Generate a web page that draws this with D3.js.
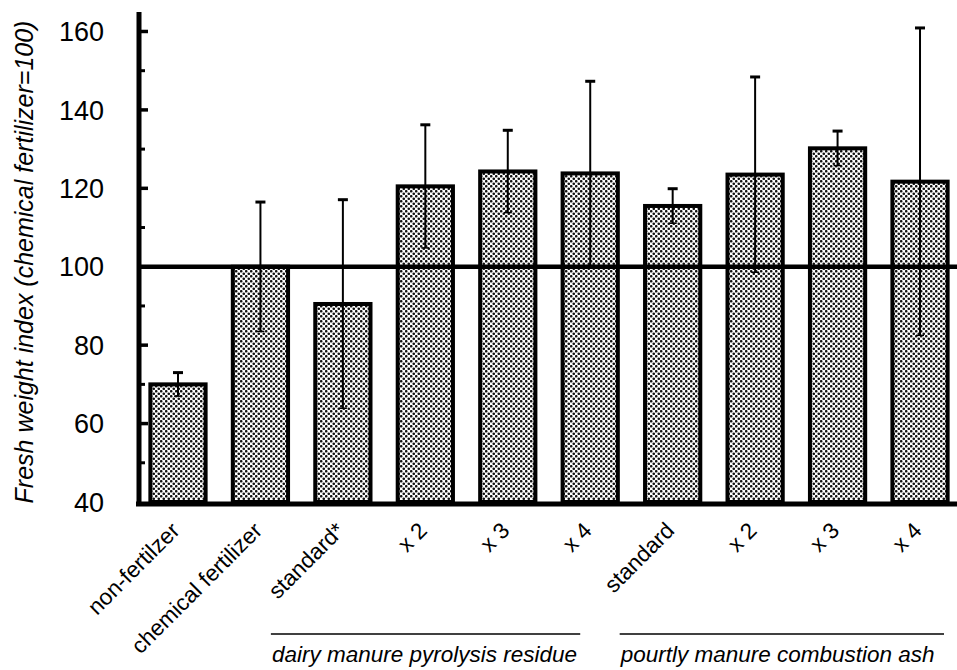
<!DOCTYPE html>
<html>
<head>
<meta charset="utf-8">
<script src="https://cdn.jsdelivr.net/npm/d3@7"></script>
<style>
  body { margin: 0; background: #fff; }
  svg text { font-family: "Liberation Sans", Arial, sans-serif; fill: #000; }
</style>
</head>
<body>
<div id="chart"></div>
<script>

var width = 957,
    height = 670;

// bar labels (kept as printed, typos included)
var labels = ["non-fertilzer", "chemical fertilizer", "standard*", "x 2", "x 3", "x 4",
              "standard", "x 2", "x 3", "x 4"];
// fresh weight index, mean
var means = [70, 100, 90.5, 120.5, 124.3, 123.8, 115.5, 123.5, 130.2, 121.7];
// error bar half length
var errors = [3, 16.5, 26.6, 15.7, 10.5, 23.5, 4.4, 24.9, 4.4, 39.2];

var yTicks = [40, 60, 80, 100, 120, 140, 160];
var yMinorTicks = [50, 70, 90, 110, 130, 150];

var groupNames = ["dairy manure pyrolysis residue", "pourtly manure combustion ash"];
var groupFirst = [2, 6];
var groupLast = [5, 9];

var yTitle = "Fresh weight index (chemical fertilizer=100)";

var axisX = 139;

var svg = d3.select("#chart").append("svg")
    .attr("width", width)
    .attr("height", height);

// dotted halftone fill
var pat = svg.append("defs").append("pattern")
    .attr("id", "dots")
    .attr("patternUnits", "userSpaceOnUse")
    .attr("width", 5)
    .attr("height", 5);
pat.append("rect").attr("width", 5).attr("height", 5).attr("fill", "#fff");
pat.append("circle").attr("cx", 1.25).attr("cy", 1.25).attr("r", 1.3).attr("fill", "#111");
pat.append("circle").attr("cx", 3.75).attr("cy", 3.75).attr("r", 1.3).attr("fill", "#111");

var x = d3.scaleBand()
    .domain(d3.range(labels.length))
    .range([138, 960])
    .paddingInner(0.33)
    .paddingOuter(0.15);

var y = d3.scaleLinear()
    .domain([40, 165])
    .range([502, 502 - 125 * 3.921]);

var g = svg.append("g");

// bars
g.selectAll("rect.bar")
    .data(means)
    .enter().append("rect")
    .attr("class", "bar")
    .attr("x", function(d, i) { return x(i); })
    .attr("width", x.bandwidth())
    .attr("y", function(d) { return y(d); })
    .attr("height", function(d) { return y(40) - y(d); })
    .attr("fill", "url(#dots)")
    .attr("stroke", "#000")
    .attr("stroke-width", 4);

// error bars
var cx = function(i) { return x(i) + x.bandwidth() / 2; };
var err = g.selectAll("g.err")
    .data(means)
    .enter().append("g")
    .attr("class", "err");
err.append("line")
    .attr("x1", function(d, i) { return cx(i); })
    .attr("x2", function(d, i) { return cx(i); })
    .attr("y1", function(d, i) { return y(d + errors[i]); })
    .attr("y2", function(d, i) { return y(d - errors[i]); })
    .attr("stroke", "#000")
    .attr("stroke-width", 2);
err.append("line")
    .attr("x1", function(d, i) { return cx(i) - 5; })
    .attr("x2", function(d, i) { return cx(i) + 5; })
    .attr("y1", function(d, i) { return y(d + errors[i]); })
    .attr("y2", function(d, i) { return y(d + errors[i]); })
    .attr("stroke", "#000")
    .attr("stroke-width", 3);
err.append("line")
    .attr("x1", function(d, i) { return cx(i) - 4; })
    .attr("x2", function(d, i) { return cx(i) + 4; })
    .attr("y1", function(d, i) { return y(d - errors[i]); })
    .attr("y2", function(d, i) { return y(d - errors[i]); })
    .attr("stroke", "#000")
    .attr("stroke-width", 1.5);

// reference line at 100
g.append("line")
    .attr("x1", axisX)
    .attr("x2", width)
    .attr("y1", y(100))
    .attr("y2", y(100))
    .attr("stroke", "#000")
    .attr("stroke-width", 4.5);

// y axis
g.append("line")
    .attr("x1", axisX).attr("x2", axisX)
    .attr("y1", y(165)).attr("y2", 506)
    .attr("stroke", "#000")
    .attr("stroke-width", 5);

g.selectAll("line.major")
    .data(yTicks.filter(function(d) { return d > 40; }))
    .enter().append("line")
    .attr("class", "major")
    .attr("x1", axisX).attr("x2", axisX + 9)
    .attr("y1", function(d) { return y(d); })
    .attr("y2", function(d) { return y(d); })
    .attr("stroke", "#000")
    .attr("stroke-width", 3.5);

g.selectAll("line.minor")
    .data(yMinorTicks)
    .enter().append("line")
    .attr("class", "minor")
    .attr("x1", axisX).attr("x2", axisX + 6)
    .attr("y1", function(d) { return y(d); })
    .attr("y2", function(d) { return y(d); })
    .attr("stroke", "#000")
    .attr("stroke-width", 3);

g.selectAll("text.ytick")
    .data(yTicks)
    .enter().append("text")
    .attr("class", "ytick")
    .attr("x", 104)
    .attr("y", function(d) { return y(d); })
    .attr("dy", "0.36em")
    .attr("text-anchor", "end")
    .style("font-size", "27px")
    .text(function(d) { return d; });

// x axis baseline
g.append("line")
    .attr("x1", axisX - 3).attr("x2", width)
    .attr("y1", 504).attr("y2", 504)
    .attr("stroke", "#000")
    .attr("stroke-width", 5);

// rotated category labels
g.selectAll("text.xtick")
    .data(labels)
    .enter().append("text")
    .attr("class", "xtick")
    .attr("text-anchor", "end")
    .attr("transform", function(d, i) {
      return "translate(" + (cx(i) + 3) + ",532)rotate(-45)";
    })
    .style("font-size", "22.5px")
    .text(function(d) { return d; });

// group brackets under the labels
var startOff = [-72, -53],
    endOff = [-10, 24];
groupNames.forEach(function(name, k) {
  var x1 = cx(groupFirst[k]) + startOff[k],
      x2 = cx(groupLast[k]) + endOff[k];
  g.append("line")
    .attr("x1", x1).attr("x2", x2)
    .attr("y1", 634).attr("y2", 634)
    .attr("stroke", "#000")
    .attr("stroke-width", 1.5);
  g.append("text")
    .attr("x", x1 + 1)
    .attr("y", 662)
    .style("font-size", "22.5px")
    .style("font-style", "italic")
    .text(name);
});

// y title
svg.append("text")
    .attr("transform", "translate(33,262)rotate(-90)")
    .attr("text-anchor", "middle")
    .style("font-size", "25px")
    .style("font-style", "italic")
    .text(yTitle);

</script>
</body>
</html>
